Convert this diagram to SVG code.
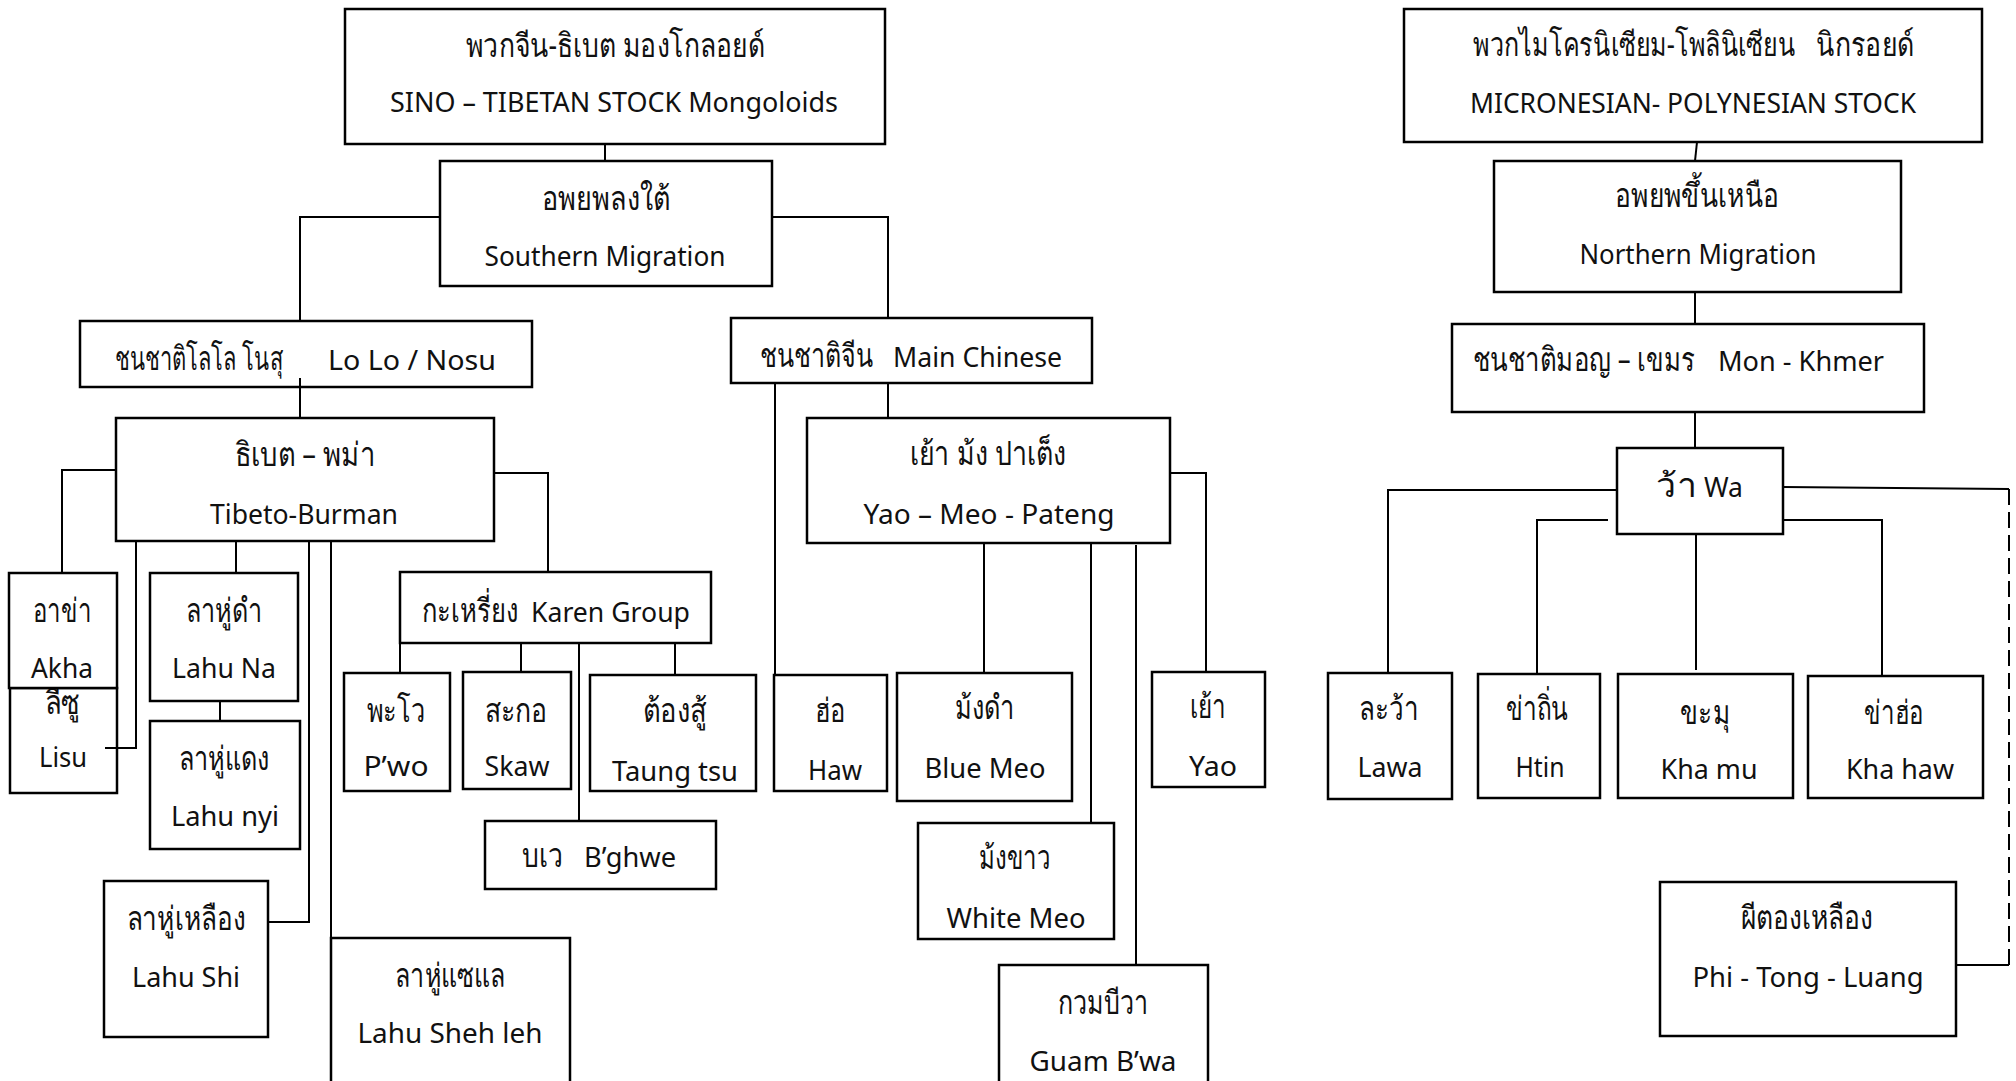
<svg xmlns="http://www.w3.org/2000/svg" width="2016" height="1081" viewBox="0 0 2016 1081">
<style>
.box{fill:#fff;stroke:#000;stroke-width:2.5}
.ln{fill:none;stroke:#000;stroke-width:2}
.dash{stroke-dasharray:16 7}
text{font-family:"Noto Sans","DejaVu Sans",sans-serif;font-size:28px;fill:#111}
.th{font-size:33px}
.c{text-anchor:middle}
</style>
<defs>
<clipPath id="clipTaung"><rect x="590" y="675" width="166" height="115"/></clipPath>
</defs>
<rect width="2016" height="1081" fill="#fff"/>
<g id="nodes">
<g id="sino"><rect class="box" x="345" y="9" width="540" height="135"/>
<text class="c th" x="615" y="57" textLength="299" lengthAdjust="spacingAndGlyphs">พวกจีน-ธิเบต มองโกลอยด์</text>
<text class="c" x="614" y="112" textLength="448" lengthAdjust="spacingAndGlyphs">SINO – TIBETAN STOCK Mongoloids</text></g>
<g id="southern"><rect class="box" x="440" y="161" width="332" height="125"/>
<text class="c th" x="606" y="210" textLength="128" lengthAdjust="spacingAndGlyphs">อพยพลงใต้</text>
<text class="c" x="605" y="266" textLength="241" lengthAdjust="spacingAndGlyphs">Southern Migration</text></g>
<g id="lolo"><rect class="box" x="80" y="321" width="452" height="66"/>
<text y="370"><tspan class="th" x="115" textLength="168" lengthAdjust="spacingAndGlyphs">ชนชาติโลโล โนสุ</tspan><tspan x="328" textLength="168" lengthAdjust="spacingAndGlyphs">Lo Lo / Nosu</tspan></text></g>
<g id="tibeto-burman"><rect class="box" x="116" y="418" width="378" height="123"/>
<text class="c th" x="305" y="466" textLength="141" lengthAdjust="spacingAndGlyphs">ธิเบต – พม่า</text>
<text class="c" x="304" y="524" textLength="188" lengthAdjust="spacingAndGlyphs">Tibeto-Burman</text></g>
<g id="lisu"><rect class="box" x="10" y="688" width="107" height="105"/>
<text class="c th" x="62" y="714" textLength="35" lengthAdjust="spacingAndGlyphs">ลีซู</text>
<text class="c" x="63" y="767" textLength="48" lengthAdjust="spacingAndGlyphs">Lisu</text></g>
<g id="akha"><rect class="box" x="9" y="573" width="108" height="115"/>
<text class="c th" x="62" y="622" textLength="59" lengthAdjust="spacingAndGlyphs">อาข่า</text>
<text class="c" x="62" y="678" textLength="62" lengthAdjust="spacingAndGlyphs">Akha</text></g>
<g id="lahu-na"><rect class="box" x="150" y="573" width="148" height="128"/>
<text class="c th" x="224" y="622" textLength="77" lengthAdjust="spacingAndGlyphs">ลาหู่ดำ</text>
<text class="c" x="224" y="678" textLength="104" lengthAdjust="spacingAndGlyphs">Lahu Na</text></g>
<g id="lahu-nyi"><rect class="box" x="150" y="721" width="150" height="128"/>
<text class="c th" x="224" y="770" textLength="91" lengthAdjust="spacingAndGlyphs">ลาหู่แดง</text>
<text class="c" x="225" y="826" textLength="108" lengthAdjust="spacingAndGlyphs">Lahu nyi</text></g>
<g id="lahu-shi"><rect class="box" x="104" y="881" width="164" height="156"/>
<text class="c th" x="186" y="930" textLength="119" lengthAdjust="spacingAndGlyphs">ลาหู่เหลือง</text>
<text class="c" x="186" y="987" textLength="108" lengthAdjust="spacingAndGlyphs">Lahu Shi</text></g>
<g id="lahu-sheh-leh"><rect class="box" x="331" y="938" width="239" height="160"/>
<text class="c th" x="450" y="987" textLength="110" lengthAdjust="spacingAndGlyphs">ลาหู่แซแล</text>
<text class="c" x="450" y="1043" textLength="185" lengthAdjust="spacingAndGlyphs">Lahu Sheh leh</text></g>
<g id="karen"><rect class="box" x="400" y="572" width="311" height="71"/>
<text y="622"><tspan class="th" x="422" textLength="96" lengthAdjust="spacingAndGlyphs">กะเหรี่ยง</tspan><tspan x="531" textLength="159" lengthAdjust="spacingAndGlyphs">Karen Group</tspan></text></g>
<g id="pwo"><rect class="box" x="344" y="673" width="106" height="118"/>
<text class="c th" x="396" y="722" textLength="59" lengthAdjust="spacingAndGlyphs">พะโว</text>
<text class="c" x="396" y="776" textLength="65" lengthAdjust="spacingAndGlyphs">P’wo</text></g>
<g id="skaw"><rect class="box" x="463" y="672" width="108" height="117"/>
<text class="c th" x="516" y="722" textLength="63" lengthAdjust="spacingAndGlyphs">สะกอ</text>
<text class="c" x="517" y="776" textLength="65" lengthAdjust="spacingAndGlyphs">Skaw</text></g>
<g id="taung-tsu"><rect class="box" x="590" y="675" width="166" height="116"/>
<text class="c th" x="675" y="722" textLength="64" lengthAdjust="spacingAndGlyphs">ต้องสู้</text>
<text class="c" x="675" y="781" textLength="126" lengthAdjust="spacingAndGlyphs" clip-path="url(#clipTaung)">Taung tsu</text></g>
<g id="bghwe"><rect class="box" x="485" y="821" width="231" height="68"/>
<text y="867"><tspan class="th" x="522" textLength="41" lengthAdjust="spacingAndGlyphs">บเว</tspan><tspan x="584" textLength="92" lengthAdjust="spacingAndGlyphs">B’ghwe</tspan></text></g>
<g id="main-chinese"><rect class="box" x="731" y="318" width="361" height="65"/>
<text y="367"><tspan class="th" x="760" textLength="113" lengthAdjust="spacingAndGlyphs">ชนชาติจีน</tspan><tspan x="893" textLength="169" lengthAdjust="spacingAndGlyphs">Main Chinese</tspan></text></g>
<g id="yao-meo-pateng"><rect class="box" x="807" y="418" width="363" height="125"/>
<text class="c th" x="988" y="465" textLength="156" lengthAdjust="spacingAndGlyphs">เย้า ม้ง ปาเต็ง</text>
<text class="c" x="989" y="524" textLength="251" lengthAdjust="spacingAndGlyphs">Yao – Meo - Pateng</text></g>
<g id="haw"><rect class="box" x="774" y="675" width="113" height="116"/>
<text class="c th" x="830" y="722" textLength="31" lengthAdjust="spacingAndGlyphs">ฮ่อ</text>
<text class="c" x="835" y="780" textLength="54" lengthAdjust="spacingAndGlyphs">Haw</text></g>
<g id="blue-meo"><rect class="box" x="897" y="673" width="175" height="128"/>
<text class="c th" x="985" y="719" textLength="60" lengthAdjust="spacingAndGlyphs">ม้งดำ</text>
<text class="c" x="985" y="778" textLength="121" lengthAdjust="spacingAndGlyphs">Blue Meo</text></g>
<g id="white-meo"><rect class="box" x="918" y="823" width="196" height="116"/>
<text class="c th" x="1015" y="869" textLength="72" lengthAdjust="spacingAndGlyphs">ม้งขาว</text>
<text class="c" x="1016" y="928" textLength="139" lengthAdjust="spacingAndGlyphs">White Meo</text></g>
<g id="guam-bwa"><rect class="box" x="999" y="965" width="209" height="140"/>
<text class="c th" x="1103" y="1014" textLength="91" lengthAdjust="spacingAndGlyphs">กวมบีวา</text>
<text class="c" x="1103" y="1071" textLength="147" lengthAdjust="spacingAndGlyphs">Guam B’wa</text></g>
<g id="yao"><rect class="box" x="1152" y="672" width="113" height="115"/>
<text class="c th" x="1208" y="718" textLength="36" lengthAdjust="spacingAndGlyphs">เย้า</text>
<text class="c" x="1213" y="776" textLength="48" lengthAdjust="spacingAndGlyphs">Yao</text></g>
<g id="micronesian"><rect class="box" x="1404" y="9" width="578" height="133"/>
<text class="th" y="56"><tspan x="1473" textLength="322" lengthAdjust="spacingAndGlyphs">พวกไมโครนิเซียม-โพลินิเซียน</tspan><tspan x="1816" textLength="98" lengthAdjust="spacingAndGlyphs">นิกรอยด์</tspan></text>
<text class="c" x="1693" y="113" textLength="446" lengthAdjust="spacingAndGlyphs">MICRONESIAN- POLYNESIAN STOCK</text></g>
<g id="northern"><rect class="box" x="1494" y="161" width="407" height="131"/>
<text class="c th" x="1697" y="207" textLength="164" lengthAdjust="spacingAndGlyphs">อพยพขึ้นเหนือ</text>
<text class="c" x="1698" y="264" textLength="237" lengthAdjust="spacingAndGlyphs">Northern Migration</text></g>
<g id="mon-khmer"><rect class="box" x="1452" y="324" width="472" height="88"/>
<text y="371"><tspan class="th" x="1473" textLength="222" lengthAdjust="spacingAndGlyphs">ชนชาติมอญ – เขมร</tspan><tspan x="1718" textLength="166" lengthAdjust="spacingAndGlyphs">Mon - Khmer</tspan></text></g>
<g id="wa"><rect class="box" x="1617" y="448" width="166" height="86"/>
<text y="497"><tspan class="th" x="1656" textLength="41" lengthAdjust="spacingAndGlyphs">ว้า</tspan><tspan x="1704" textLength="39" lengthAdjust="spacingAndGlyphs">Wa</tspan></text></g>
<g id="lawa"><rect class="box" x="1328" y="673" width="124" height="126"/>
<text class="c th" x="1389" y="720" textLength="60" lengthAdjust="spacingAndGlyphs">ละว้า</text>
<text class="c" x="1390" y="777" textLength="65" lengthAdjust="spacingAndGlyphs">Lawa</text></g>
<g id="htin"><rect class="box" x="1478" y="674" width="122" height="124"/>
<text class="c th" x="1537" y="720" textLength="63" lengthAdjust="spacingAndGlyphs">ข่าถิ่น</text>
<text class="c" x="1540" y="777" textLength="49" lengthAdjust="spacingAndGlyphs">Htin</text></g>
<g id="kha-mu"><rect class="box" x="1618" y="674" width="175" height="124"/>
<text class="c th" x="1705" y="724" textLength="50" lengthAdjust="spacingAndGlyphs">ขะมุ</text>
<text class="c" x="1709" y="779" textLength="97" lengthAdjust="spacingAndGlyphs">Kha mu</text></g>
<g id="kha-haw"><rect class="box" x="1808" y="676" width="175" height="122"/>
<text class="c th" x="1894" y="724" textLength="60" lengthAdjust="spacingAndGlyphs">ข่าฮ่อ</text>
<text class="c" x="1900" y="779" textLength="108" lengthAdjust="spacingAndGlyphs">Kha haw</text></g>
<g id="phi-tong-luang"><rect class="box" x="1660" y="882" width="296" height="154"/>
<text class="c th" x="1807" y="929" textLength="132" lengthAdjust="spacingAndGlyphs">ผีตองเหลือง</text>
<text class="c" x="1808" y="987" textLength="231" lengthAdjust="spacingAndGlyphs">Phi - Tong - Luang</text></g>
</g>
<g id="connectors">
<path class="ln" d="M605,144 V161"/>
<path class="ln" d="M440,217 H300 V321"/>
<path class="ln" d="M772,217 H888 V318"/>
<path class="ln" d="M300,378 V418"/>
<path class="ln" d="M116,470 H62 V573"/>
<path class="ln" d="M136,541 V748 H105"/>
<path class="ln" d="M236,541 V573"/>
<path class="ln" d="M220,701 V721"/>
<path class="ln" d="M309,541 V922 H268"/>
<path class="ln" d="M331,541 V1081"/>
<path class="ln" d="M494,473 H548 V572"/>
<path class="ln" d="M400,643 V673"/>
<path class="ln" d="M521,643 V672"/>
<path class="ln" d="M579,643 V821"/>
<path class="ln" d="M675,643 V675"/>
<path class="ln" d="M775,383 V675"/>
<path class="ln" d="M888,383 V418"/>
<path class="ln" d="M1170,473 H1206 V672"/>
<path class="ln" d="M984,543 V673"/>
<path class="ln" d="M1091,543 V823"/>
<path class="ln" d="M1136,545 V965"/>
<path class="ln" d="M1697,142 L1695,161"/>
<path class="ln" d="M1695,292 V324"/>
<path class="ln" d="M1695,412 V448"/>
<path class="ln" d="M1617,490 H1388 V673"/>
<path class="ln" d="M1608,520 H1537 V674"/>
<path class="ln" d="M1696,534 V670"/>
<path class="ln" d="M1783,520 H1882 V676"/>
<path class="ln" d="M1783,487 L2009,489"/>
<path class="ln dash" d="M2009,489 V965"/>
<path class="ln" d="M2009,965 H1956"/>
</g>
</svg>
